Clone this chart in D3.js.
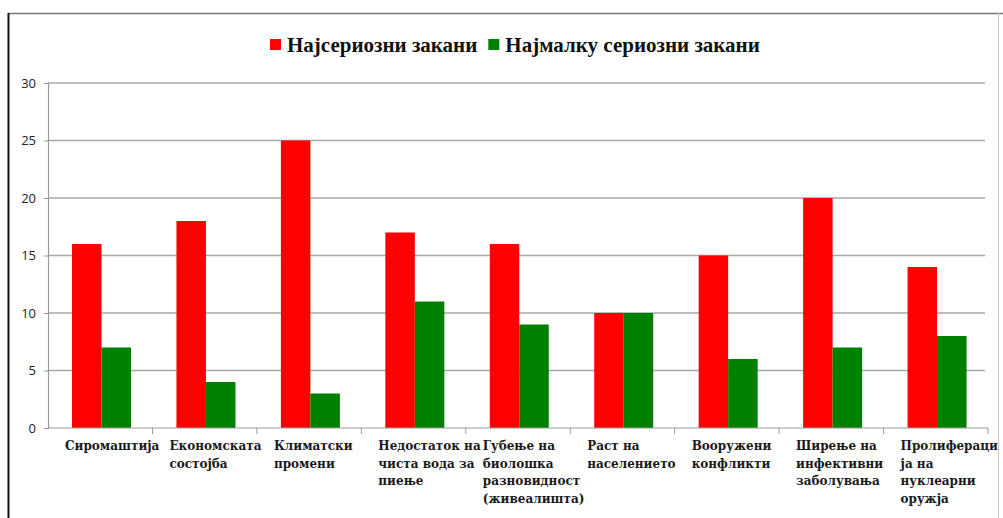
<!DOCTYPE html>
<html>
<head>
<meta charset="utf-8">
<script src="https://cdn.jsdelivr.net/npm/d3@7"></script>
<style>
  html, body { margin: 0; padding: 0; background: #fff; }
  svg { display: block; }
</style>
</head>
<body>
<svg id="chart" width="1003" height="518"></svg>
<script>
// Threats, each label split into the lines it wraps to under the axis
const categories = [
  "Сиромаштија",
  "Економската состојба",
  "Климатски промени",
  "Недостаток на чиста вода за пиење",
  "Губење на биолошка разновидност (живеалишта)",
  "Раст на населението",
  "Вооружени конфликти",
  "Ширење на инфективни заболувања",
  "Пролиферација на нуклеарни оружја"
];
const categoryLines = [
  ["Сиромаштија"],
  ["Економската", "состојба"],
  ["Климатски", "промени"],
  ["Недостаток на", "чиста вода за", "пиење"],
  ["Губење на", "биолошка", "разновидност", "(живеалишта)"],
  ["Раст на", "населението"],
  ["Вооружени", "конфликти"],
  ["Ширење на", "инфективни", "заболувања"],
  ["Пролифераци", "ја на", "нуклеарни", "оружја"]
];
const seriesNames = ["Најсериозни закани", "Најмалку сериозни закани"];
const mostSerious = [16, 18, 25, 17, 16, 10, 15, 20, 14];
const leastSerious = [7, 4, 3, 11, 9, 10, 6, 7, 8];
const yTicks = [0, 5, 10, 15, 20, 25, 30];
const seriesColors = ["#ff0000", "#008000"];

const svg = d3.select("#chart");

// outer frame
svg.append("line").attr("x1", 8).attr("x2", 1003).attr("y1", 13.5).attr("y2", 13.5)
  .attr("stroke", "#777").attr("stroke-width", 1.5);
svg.append("line").attr("x1", 8.5).attr("x2", 8.5).attr("y1", 13).attr("y2", 518)
  .attr("stroke", "#111").attr("stroke-width", 2);
svg.append("line").attr("x1", 998.5).attr("x2", 998.5).attr("y1", 13).attr("y2", 518)
  .attr("stroke", "#ccc").attr("stroke-width", 1);

const plot = { left: 48, right: 988, top: 83, bottom: 428 };

const x0 = d3.scaleBand().domain(categories).range([plot.left, plot.right]).padding(0);
const x1 = d3.scaleBand().domain(seriesNames).range([24, 83]).padding(0);
const y = d3.scaleLinear().domain([0, 30]).range([plot.bottom, plot.top]);

// horizontal gridlines
svg.append("g")
  .selectAll("line")
  .data(yTicks.filter(t => t > 0))
  .join("line")
  .attr("x1", plot.left).attr("x2", plot.right - 3)
  .attr("y1", d => y(d)).attr("y2", d => y(d))
  .attr("stroke", "#a8a8a8").attr("stroke-width", 1.5);

// y axis
const yAxis = svg.append("g")
  .attr("transform", `translate(${plot.left},0)`)
  .call(d3.axisLeft(y).tickValues(yTicks).tickSize(4).tickPadding(8).tickFormat(d3.format("d")));
yAxis.select(".domain").attr("stroke", "#999").attr("stroke-width", 1.2);
yAxis.selectAll(".tick line").attr("stroke", "#999");
yAxis.selectAll(".tick text")
  .attr("font-family", "Open Sans, sans-serif").attr("font-size", 13).attr("fill", "#222");

// bars
const rows = categories.map((c, i) => ({ cat: c, values: [mostSerious[i], leastSerious[i]] }));
const groups = svg.append("g")
  .selectAll("g")
  .data(rows)
  .join("g")
  .attr("transform", d => `translate(${x0(d.cat)},0)`);
groups.selectAll("rect")
  .data(d => d.values.map((v, k) => ({ name: seriesNames[k], value: v, k })))
  .join("rect")
  .attr("x", d => x1(d.name))
  .attr("width", x1.bandwidth())
  .attr("y", d => y(d.value))
  .attr("height", d => y(0) - y(d.value))
  .attr("fill", d => seriesColors[d.k]);

// x axis with ticks at category boundaries
const xAxis = svg.append("g").attr("transform", `translate(0,${plot.bottom})`);
xAxis.append("line").attr("x1", plot.left).attr("x2", plot.right)
  .attr("stroke", "#999").attr("stroke-width", 1.2);
xAxis.selectAll("line.tick")
  .data(categories.slice(1).concat([null]))
  .join("line")
  .attr("class", "tick")
  .attr("x1", d => d ? x0(d) : plot.right)
  .attr("x2", d => d ? x0(d) : plot.right)
  .attr("y1", 0).attr("y2", 6)
  .attr("stroke", "#999");

// category labels
const labelInset = 17;
const labels = svg.append("g")
  .selectAll("text")
  .data(categories)
  .join("text")
  .attr("x", d => x0(d) + labelInset)
  .attr("y", plot.bottom + 22)
  .attr("font-family", "DejaVu Serif, serif")
  .attr("font-weight", "bold")
  .attr("font-size", 12)
  .attr("fill", "#1a1a1a");
labels.each(function (d, i) {
  d3.select(this).selectAll("tspan")
    .data(categoryLines[i])
    .join("tspan")
    .attr("x", x0(d) + labelInset)
    .attr("dy", (t, j) => j === 0 ? 0 : 17.5)
    .text(t => t);
});

// legend
const legend = svg.append("g").attr("transform", "translate(270,39)");
let lx = 0;
seriesNames.forEach((name, k) => {
  const item = legend.append("g").attr("transform", `translate(${lx},0)`);
  item.append("rect").attr("width", 11).attr("height", 11).attr("fill", seriesColors[k]);
  const t = item.append("text")
    .attr("x", 17).attr("y", 12.5)
    .attr("font-family", "Liberation Serif, Times New Roman, serif")
    .attr("font-weight", "bold").attr("font-size", 21)
    .attr("fill", "#111")
    .text(name);
  lx += 17 + t.node().getComputedTextLength() + 11;
});
</script>
</body>
</html>
